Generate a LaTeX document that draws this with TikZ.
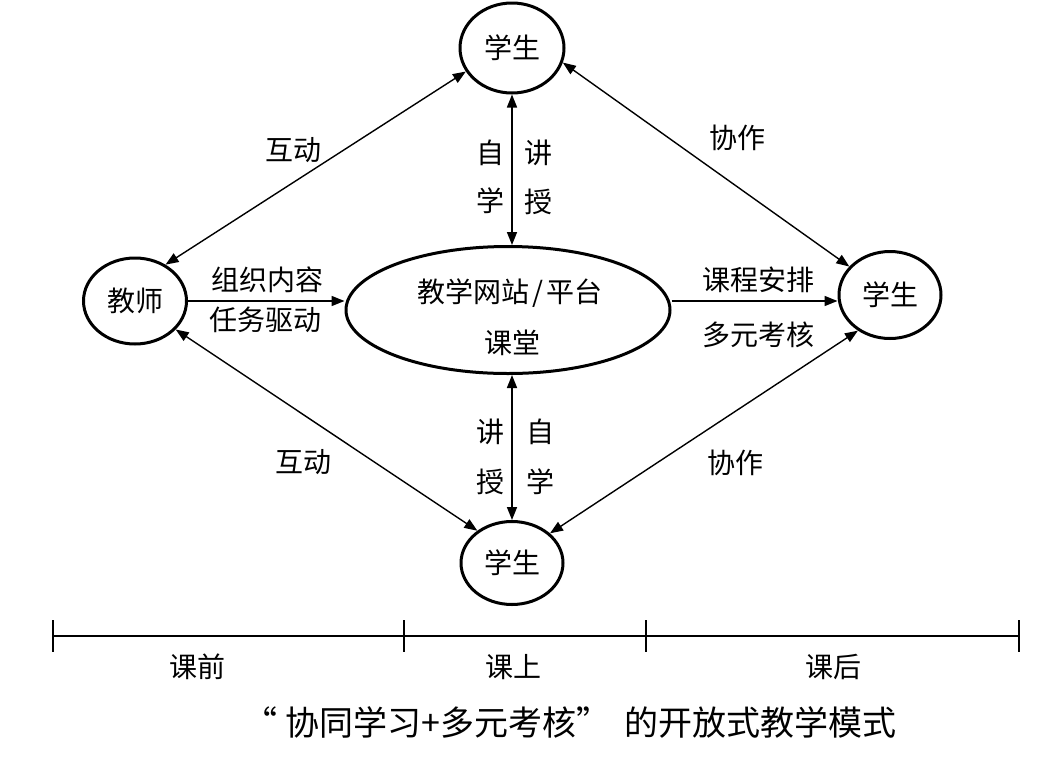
\documentclass[tikz,border=0pt]{standalone}
\usepackage{fontspec}
\setmainfont{Noto Sans CJK SC}
\usetikzlibrary{shapes.geometric,arrows.meta}
\begin{document}
\begin{tikzpicture}[x=1pt,y=-1pt,
  stu/.style={ellipse,draw,line width=3pt,inner sep=0pt,font=\fontsize{28}{32}\selectfont},
  lab/.style={font=\fontsize{28}{32}\selectfont,inner sep=0pt},
  tip/.tip={Triangle[length=13pt,width=10pt]},
  arr/.style={line width=1.7pt,-tip},
  biarr/.style={line width=1.7pt,tip-tip},
  diag/.style={line width=1.4pt,tip-tip},
  axis/.style={line width=2pt},
]
\useasboundingbox (0,0) rectangle (1047,761);
% nodes
\node[stu,minimum width=104pt,minimum height=90pt] (ts) at (512,48) {学生};
\node[stu,minimum width=102pt,minimum height=83pt] (bs) at (512,563) {学生};
\node[stu,minimum width=103pt,minimum height=86pt] (tc) at (135,301) {教师};
\node[stu,minimum width=102pt,minimum height=87pt] (rs) at (890,295) {学生};
\node[stu,minimum width=324pt,minimum height=127pt] (el) at (508,310) {};
\node[lab] (elt1) at (510,293) {教学网站\hspace{3pt}/\hspace{3pt}平台};
\node[lab] (elt2) at (512,343) {课堂};
% horizontal arrows
\draw[arr] (tc.east) -- (tc.east -| el.west);
\draw[arr] (el.east |- tc.east) -- (rs.west |- tc.east);
\node[lab] (l1) at (267,280) {组织内容};
\node[lab] (l2) at (265,320) {任务驱动};
\node[lab] (l3) at (758,280) {课程安排};
\node[lab] (l4) at (758,335) {多元考核};
% vertical arrows
\draw[biarr] (ts.south) -- (ts.south |- el.north);
\draw[biarr] (bs.north |- el.south) -- (bs.north);
\node[lab] (v1) at (490,153) {自};
\node[lab] (v2) at (490,201) {学};
\node[lab] (v3) at (538,153) {讲};
\node[lab] (v4) at (538,202) {授};
\node[lab] (v5) at (490,432) {讲};
\node[lab] (v6) at (490,482) {授};
\node[lab] (v7) at (540,432) {自};
\node[lab] (v8) at (540,482) {学};
% diagonal arrows
\draw[diag] (tc.50) -- (ts.207);
\draw[diag] (ts.344) -- (rs.145);
\draw[diag] (tc.325) -- (bs.137);
\draw[diag] (rs.228) -- (bs.38);
\node[lab] (d1) at (293,150) {互动};
\node[lab] (d2) at (737,138) {协作};
\node[lab] (d3) at (303,462) {互动};
\node[lab] (d4) at (735,463) {协作};
% timeline
\coordinate (t0) at (53,636);
\coordinate (t1) at (404,636);
\coordinate (t2) at (646,636);
\coordinate (t3) at (1019,636);
\draw[axis] (t0) -- (t3);
\draw[axis] (53,620) -- (53,652);
\draw[axis] (404,620) -- (404,652);
\draw[axis] (646,620) -- (646,652);
\draw[axis] (1019,620) -- (1019,652);
\node[lab] (p1) at (197,667) {课前};
\node[lab] (p2) at (513,667) {课上};
\node[lab] (p3) at (833,667) {课后};
\node[font=\fontsize{34}{38}\selectfont,inner sep=0pt] (cap) at (570,722) {“\hspace{8pt}协同学习+多元考核”\hspace{14pt}的开放式教学模式};
\end{tikzpicture}
\end{document}
